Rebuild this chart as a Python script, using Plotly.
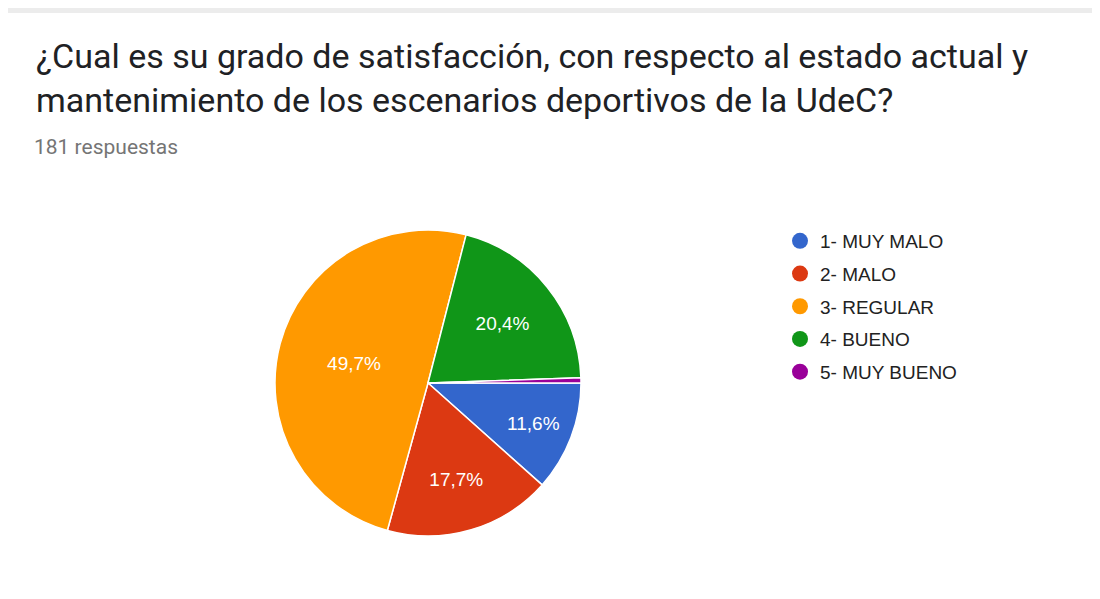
import plotly.graph_objects as go

# survey answers (181 respuestas)
labels = ["1- MUY MALO", "2- MALO", "3- REGULAR", "4- BUENO", "5- MUY BUENO"]
counts = [21, 32, 90, 37, 1]
colors = ["#3366cc", "#dc3912", "#ff9900", "#109618", "#990099"]

total = sum(counts)
# Google hides labels for tiny slices
pct_text = [("%.1f%%" % (100.0 * c / total)).replace(".", ",") if c / total > 0.05 else "" for c in counts]

W, H = 1100, 599

fig = go.Figure()
fig.add_trace(go.Pie(
    labels=labels, values=counts, sort=False, direction="clockwise", rotation=90,
    marker=dict(colors=colors, line=dict(color="white", width=1.5)),
    text=pct_text, textinfo="text", textposition="inside", insidetextorientation="horizontal",
    textfont=dict(family="Liberation Sans, Arial", size=19, color="white"),
    domain=dict(x=[267 / W, 573 / W], y=[(H - 528) / H, (H - 222) / H]),
    showlegend=False, hoverinfo="label+percent"))

# legend with round markers, like Google Forms
for lab, col in zip(labels, colors):
    fig.add_trace(go.Scatter(x=[None], y=[None], mode="markers", name=lab, legendgroup=lab,
                             marker=dict(color=col, size=20, symbol="circle")))

fig.update_layout(
    width=W, height=H, margin=dict(l=0, r=0, t=0, b=0),
    paper_bgcolor="white", plot_bgcolor="white",
    xaxis=dict(visible=False), yaxis=dict(visible=False),
    legend=dict(x=772 / W, y=(H - 214) / H, xanchor="left", yanchor="top",
                font=dict(family="Liberation Sans, Arial", size=19, color="#222222"),
                itemsizing="trace", traceorder="grouped", tracegroupgap=5,
                bgcolor="rgba(0,0,0,0)"),
    shapes=[dict(type="rect", xref="paper", yref="paper", x0=0, x1=1,
                 y0=(H - 5) / H, y1=1, fillcolor="#ececec", line_width=0)],
    annotations=[
        dict(text="¿Cual es su grado de satisfacción, con respecto al estado actual y<br>"
                  "mantenimiento de los escenarios deportivos de la UdeC?",
             xref="paper", yref="paper", x=26 / W, y=(H - 26) / H, xanchor="left", yanchor="top",
             align="left", showarrow=False,
             font=dict(family="Roboto", size=34, color="#202124")),
        dict(text="181 respuestas", xref="paper", yref="paper", x=24 / W, y=(H - 125) / H,
             xanchor="left", yanchor="top", showarrow=False,
             font=dict(family="Roboto", size=21, color="#757575")),
    ],
)

fig.write_html("out.html")
